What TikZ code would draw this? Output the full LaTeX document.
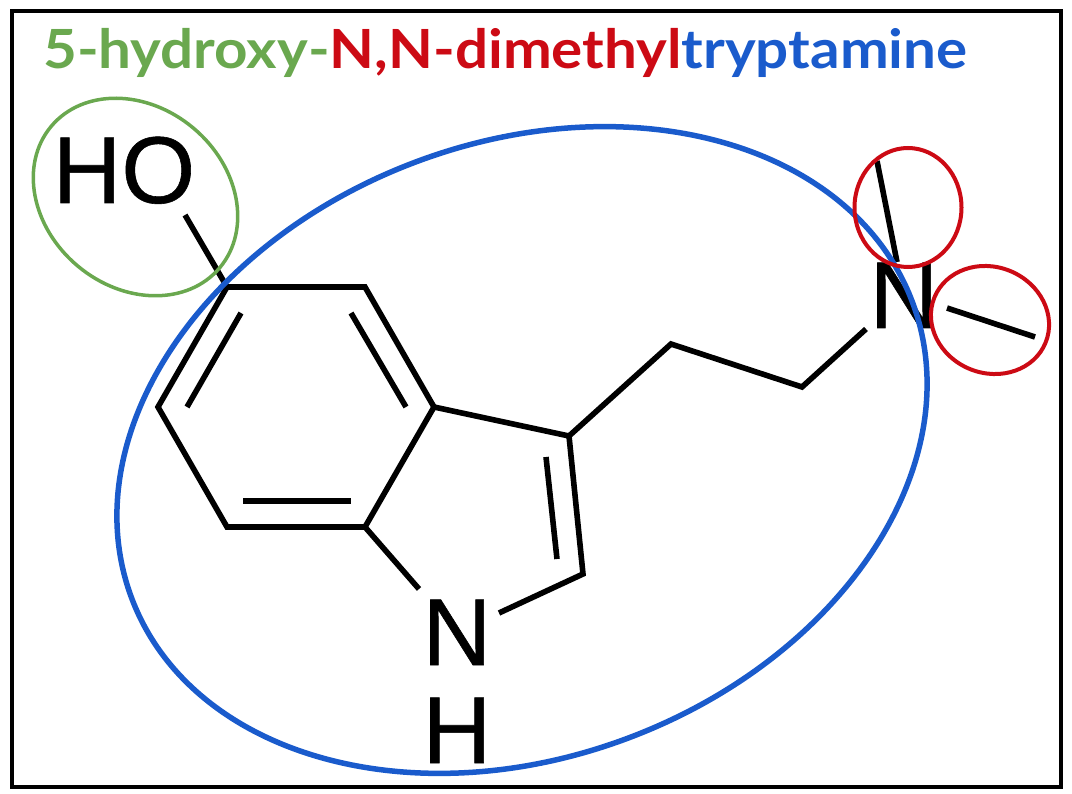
\documentclass[tikz,border=0pt]{standalone}
\usepackage{fontspec}
\setmainfont{Liberation Sans}
\newfontfamily\atomfont[FakeBold=0.6]{Liberation Sans}
\newfontfamily\titlefont[FakeStretch=1.08]{Lato}
\definecolor{hydroxygreen}{HTML}{6AA84F}
\definecolor{methylred}{HTML}{CC0A14}
\definecolor{tryptblue}{HTML}{1A5BCC}
\tikzset{
  bond/.style={line width=5.6pt,line join=miter},
  atom/.style={inner sep=0pt,anchor=base,font=\atomfont\fontsize{95}{95}\selectfont},
  frame/.style={line width=4pt}
}
\begin{document}
\begin{tikzpicture}[x=1pt,y=-1pt]
  \useasboundingbox (0,0) rectangle (1072,794);
  \draw[frame] (12,11) rectangle (1061,787);
  \node[inner sep=0pt,anchor=base west,font=\titlefont\bfseries\fontsize{54}{54}\selectfont] (title) at (43,69)
    {\textcolor{hydroxygreen}{5-hydroxy-}\textcolor{methylred}{N,N-dimethyl}\textcolor{tryptblue}{tryptamine}};
  \node[atom] (ho) at (124,203) {HO};
  \node[atom] (amine) at (904,328) {N};
  \node[atom] (indoleN) at (457,665) {N};
  \node[atom] (indoleH) at (457,763) {H};
  \coordinate (c4) at (227,287);
  \coordinate (c3) at (365,287);
  \coordinate (c2) at (434,407);
  \coordinate (c1) at (365,527);
  \coordinate (c6) at (227,527);
  \coordinate (c5) at (158,407);
  \coordinate (c7) at (569,436);
  \coordinate (c8) at (583,574);
  \coordinate (a1) at (671,344);
  \coordinate (a2) at (802,387);
  \coordinate (hoEnd) at (185,215);
  \coordinate (amineEnd) at (866,329);
  \coordinate (nhLeft) at (419,589);
  \coordinate (nhRight) at (499,613);
  \coordinate (me1a) at (877,161);
  \coordinate (me1b) at (897,262);
  \coordinate (me2a) at (947,308);
  \coordinate (me2b) at (1035,337);
  \coordinate (in1a) at (241,313);
  \coordinate (in1b) at (187,407);
  \coordinate (in2a) at (351,313);
  \coordinate (in2b) at (406,407);
  \coordinate (in3a) at (243,501);
  \coordinate (in3b) at (351,501);
  \coordinate (in4a) at (546,457);
  \coordinate (in4b) at (557,559);
  \draw[bond] (c4) -- (c3) -- (c2) -- (c1) -- (c6) -- (c5) -- cycle;
  \draw[bond] (in1a) -- (in1b);
  \draw[bond] (in2a) -- (in2b);
  \draw[bond] (in3a) -- (in3b);
  \draw[bond] (c2) -- (c7) -- (c8) -- (nhRight);
  \draw[bond] (in4a) -- (in4b);
  \draw[bond] (c1) -- (nhLeft);
  \draw[bond] (c4) -- (hoEnd);
  \draw[bond] (c7) -- (a1) -- (a2) -- (amineEnd);
  \draw[bond] (me1a) -- (me1b);
  \draw[bond] (me2a) -- (me2b);
  \draw[tryptblue,line width=5.5pt,rotate around={21:(522,450)}] (522,450) ellipse (417.5 and 307);
  \draw[hydroxygreen,line width=3.5pt,rotate around={-40:(135.5,197)}] (135.5,197) ellipse (110 and 90);
  \draw[methylred,line width=4pt] (908,207.5) ellipse (53.5 and 59.5);
  \draw[methylred,line width=4pt,rotate around={-22:(990,320)}] (990,320) ellipse (60 and 53);
\end{tikzpicture}
\end{document}
